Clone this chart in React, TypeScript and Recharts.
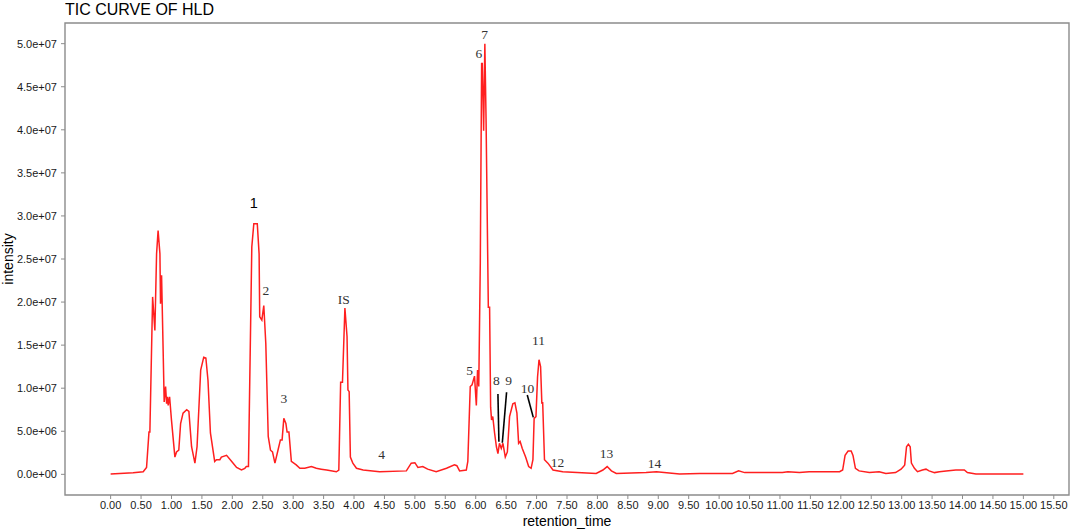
import {
  LineChart,
  Line,
  XAxis,
  YAxis,
  ReferenceArea,
  ReferenceLine,
  ReferenceDot,
} from "recharts";

// retention time (min) and TIC intensity (x 1e6)
const retentionTime = [
  0.0, 0.37, 0.535, 0.59, 0.63, 0.645, 0.69, 0.727, 0.755, 0.78, 0.81, 0.82, 0.837, 0.864, 0.88,
  0.903, 0.92, 0.935, 0.946, 0.969, 1.0, 1.056, 1.083, 1.12, 1.15, 1.19, 1.25, 1.286, 1.33, 1.385,
  1.42, 1.48, 1.53, 1.565, 1.6, 1.64, 1.71, 1.74, 1.795, 1.82, 1.905, 1.99, 2.07, 2.15, 2.205,
  2.23, 2.265, 2.32, 2.353, 2.41, 2.44, 2.45, 2.485, 2.517, 2.55, 2.59, 2.627, 2.66, 2.7, 2.75,
  2.79, 2.818, 2.846, 2.88, 2.9, 2.93, 2.97, 3.05, 3.11, 3.19, 3.3, 3.38, 3.46, 3.55, 3.71, 3.75,
  3.78, 3.81, 3.85, 3.885, 3.9, 3.92, 3.94, 3.98, 4.04, 4.15, 4.42, 4.86, 4.94, 5.0, 5.05, 5.13,
  5.21, 5.35, 5.52, 5.65, 5.69, 5.735, 5.845, 5.87, 5.91, 5.94, 5.98, 6.01, 6.03, 6.05, 6.075,
  6.097, 6.108, 6.13, 6.15, 6.17, 6.207, 6.228, 6.245, 6.26, 6.28, 6.31, 6.34, 6.365, 6.39, 6.42,
  6.447, 6.486, 6.52, 6.556, 6.61, 6.644, 6.677, 6.705, 6.73, 6.765, 6.82, 6.87, 6.91, 6.94, 6.96,
  6.99, 7.016, 7.04, 7.066, 7.087, 7.1, 7.13, 7.186, 7.27, 7.43, 7.98, 8.09, 8.16, 8.23, 8.31,
  8.8, 8.97, 9.35, 9.68, 10.22, 10.32, 10.42, 11.04, 11.13, 11.32, 11.48, 11.98, 12.03, 12.07,
  12.12, 12.17, 12.2, 12.24, 12.3, 12.47, 12.63, 12.74, 12.9, 12.99, 13.03, 13.05, 13.08, 13.11,
  13.14, 13.16, 13.21, 13.26, 13.34, 13.4, 13.45, 13.54, 13.62, 13.73, 13.89, 14.03, 14.08, 14.22,
  15.0,
];

const intensityMillions = [
  0.03, 0.19, 0.3, 0.8, 4.9, 4.9, 20.6, 16.7, 25.6, 28.3, 25.6, 19.8, 23.1, 14.0, 8.4,
  10.2, 8.2, 9.0, 8.0, 9.0, 6.3, 2.0, 2.6, 2.8, 5.9, 7.1, 7.5, 7.3, 3.2, 1.3,
  3.2, 12.1, 13.6, 13.5, 10.9, 4.8, 1.5, 1.7, 1.7, 2.0, 2.2, 1.5, 0.8, 0.5, 0.7,
  0.9, 0.9, 26.4, 29.1, 29.1, 25.6, 18.3, 17.9, 19.6, 15.2, 4.4, 2.8, 2.6, 1.3, 2.8,
  4.0, 4.0, 6.5, 5.9, 4.9, 4.9, 1.5, 1.1, 0.7, 0.7, 0.9, 0.7, 0.6, 0.5, 0.3, 0.5,
  10.7, 10.7, 19.3, 16.0, 9.8, 9.6, 2.0, 1.3, 0.7, 0.5, 0.3, 0.4, 1.3, 1.35, 0.8, 0.9,
  0.6, 0.3, 0.7, 1.1, 1.0, 0.4, 0.5, 1.5, 10.2, 10.4, 11.4, 8.0, 12.1, 10.2, 24.5,
  47.7, 47.7, 39.9, 50.0, 41.1, 19.4, 19.4, 7.8, 6.3, 6.7, 4.8, 3.2, 2.4, 3.6, 3.0,
  3.6, 2.0, 2.6, 6.7, 8.2, 8.3, 7.1, 3.6, 3.8, 3.0, 2.0, 0.9, 0.7, 1.7, 6.5,
  6.7, 11.3, 13.3, 12.5, 8.2, 8.4, 1.7, 1.3, 0.5, 0.3, 0.1, 0.5, 0.9, 0.4, 0.1,
  0.2, 0.3, 0.05, 0.1, 0.1, 0.4, 0.2, 0.2, 0.3, 0.2, 0.3, 0.3, 0.5, 2.2,
  2.7, 2.7, 2.2, 0.7, 0.4, 0.2, 0.3, 0.1, 0.2, 0.6, 0.9, 1.1, 3.2, 3.5,
  3.2, 1.3, 0.7, 0.3, 0.5, 0.6, 0.4, 0.2, 0.3, 0.4, 0.5, 0.5, 0.2, 0.05,
  0.05,
];

const xTicks = [
  0, 0.5, 1, 1.5, 2, 2.5, 3, 3.5, 4, 4.5, 5, 5.5, 6, 6.5, 7, 7.5, 8, 8.5, 9, 9.5, 10, 10.5, 11,
  11.5, 12, 12.5, 13, 13.5, 14, 14.5, 15, 15.5,
];
const yTicks = [0, 5, 10, 15, 20, 25, 30, 35, 40, 45, 50];

// peak annotations (centre of text, in data units)
const peakLabels = [
  { t: 2.55, y: 21.4, text: "2" },
  { t: 2.846, y: 8.8, text: "3" },
  { t: 3.83, y: 20.3, text: "IS" },
  { t: 4.455, y: 2.35, text: "4" },
  { t: 5.9, y: 12.0, text: "5" },
  { t: 6.05, y: 48.9, text: "6" },
  { t: 6.146, y: 51.1, text: "7" },
  { t: 6.34, y: 10.9, text: "8" },
  { t: 6.54, y: 10.9, text: "9" },
  { t: 6.85, y: 10.0, text: "10" },
  { t: 7.03, y: 15.5, text: "11" },
  { t: 7.345, y: 1.33, text: "12" },
  { t: 8.15, y: 2.47, text: "13" },
  { t: 8.94, y: 1.31, text: "14" },
];
const mainLabel = { t: 2.353, y: 31.5, text: "1" };

const leaderLines = [
  { t1: 6.365, y1: 9.32, t2: 6.381, y2: 3.78 },
  { t1: 6.507, y1: 9.53, t2: 6.437, y2: 3.67 },
  { t1: 6.847, y1: 9.21, t2: 6.946, y2: 6.61 },
];

const data = retentionTime.map((t, i) => ({ t, intensity: intensityMillions[i] }));

const X_DOMAIN: [number, number] = [-0.75, 15.75];
const Y_DOMAIN: [number, number] = [-2.4, 52.4];
const SANS = '"Liberation Sans", Arial, sans-serif';
const SERIF = '"Liberation Serif", "Times New Roman", serif';
const GREY = "#8c8c8c";

function sci(v: number): string {
  const raw = v * 1e6;
  if (raw === 0) return "0.0e+00";
  const exp = Math.floor(Math.log10(raw) + 1e-9);
  const mant = raw / Math.pow(10, exp);
  return `${mant.toFixed(1)}e+${String(exp).padStart(2, "0")}`;
}

function textShape(text: string, color: string, size: number, family: string) {
  return (p: any) => (
    <text
      x={p.cx}
      y={p.cy}
      textAnchor="middle"
      dominantBaseline="central"
      fill={color}
      fontSize={size}
      fontFamily={family}
    >
      {text}
    </text>
  );
}

export default function App() {
  return (
    <div
      style={{ position: "absolute", left: 0, top: 0, width: 1072, height: 530, background: "#fff" }}
    >
      <div
        style={{
          position: "absolute",
          left: 65,
          top: 0,
          fontFamily: SANS,
          fontSize: 16,
          lineHeight: "20px",
          color: "#000",
        }}
      >
        TIC CURVE OF HLD
      </div>
      <div
        style={{
          position: "absolute",
          left: 8,
          top: 259,
          transform: "translate(-50%, -50%) rotate(-90deg)",
          fontFamily: SANS,
          fontSize: 14,
          color: "#000",
          whiteSpace: "nowrap",
        }}
      >
        intensity
      </div>
      <div
        style={{
          position: "absolute",
          left: 567,
          top: 521,
          transform: "translate(-50%, -50%)",
          fontFamily: SANS,
          fontSize: 14,
          color: "#000",
          whiteSpace: "nowrap",
        }}
      >
        retention_time
      </div>
      <LineChart
        width={1072}
        height={530}
        data={data}
        margin={{ top: 23, right: 3, bottom: 0, left: 0 }}
      >
        <XAxis
          dataKey="t"
          type="number"
          domain={X_DOMAIN}
          ticks={xTicks}
          allowDataOverflow
          interval={0}
          height={35}
          tickFormatter={(v: number) => v.toFixed(2)}
          axisLine={false}
          tickLine={{ stroke: GREY }}
          tickSize={4}
          tick={{ fill: "#1a1a1a", fontSize: 11, fontFamily: SANS }}
        />
        <YAxis
          type="number"
          domain={Y_DOMAIN}
          ticks={yTicks}
          allowDataOverflow
          interval={0}
          width={65}
          tickFormatter={sci}
          axisLine={false}
          tickLine={{ stroke: GREY }}
          tickSize={4}
          tickMargin={4}
          tick={{ fill: "#1a1a1a", fontSize: 11, fontFamily: SANS }}
        />
        <ReferenceArea
          x1={X_DOMAIN[0]}
          x2={X_DOMAIN[1]}
          y1={Y_DOMAIN[0]}
          y2={Y_DOMAIN[1]}
          fill="none"
          stroke={GREY}
          strokeWidth={1.4}
          ifOverflow="visible"
        />
        <Line
          dataKey="intensity"
          type="linear"
          stroke="#ff1f1f"
          strokeWidth={1.5}
          dot={false}
          isAnimationActive={false}
        />
        {leaderLines.map((l, i) => (
          <ReferenceLine
            key={`ll${i}`}
            segment={[
              { x: l.t1, y: l.y1 },
              { x: l.t2, y: l.y2 },
            ]}
            stroke="#000"
            strokeWidth={1.6}
          />
        ))}
        {peakLabels.map((p) => (
          <ReferenceDot
            key={p.text}
            x={p.t}
            y={p.y}
            r={0}
            shape={textShape(p.text, "#333", 13.5, SERIF)}
          />
        ))}
        <ReferenceDot
          x={mainLabel.t}
          y={mainLabel.y}
          r={0}
          shape={textShape(mainLabel.text, "#000", 14.5, SANS)}
        />
      </LineChart>
    </div>
  );
}
